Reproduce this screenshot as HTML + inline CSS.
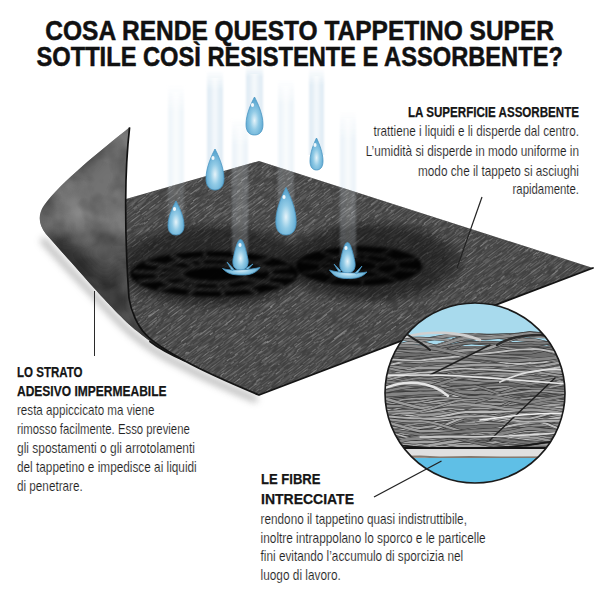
<!DOCTYPE html><html><head><meta charset="utf-8"><style>
html,body{margin:0;padding:0;background:#fff;}
body{width:600px;height:600px;position:relative;overflow:hidden;}
svg text{font-family:"Liberation Sans",sans-serif;}
.t{font-weight:700;font-size:26.8px;fill:#111;stroke:#111;stroke-width:0.5px;}
.h{font-weight:700;font-size:14.5px;fill:#151515;stroke:#151515;stroke-width:0.25px;}
.b{font-weight:400;font-size:14.8px;fill:#222;stroke:#fff;stroke-width:0.15px;}
</style></head><body><svg width="600" height="600" viewBox="0 0 600 600" style="position:absolute;left:0;top:0">
<defs>
 <linearGradient id="beam" x1="0" y1="0" x2="0" y2="1" gradientUnits="objectBoundingBox">
  <stop offset="0" stop-color="#e2edf5" stop-opacity="0"/>
  <stop offset="0.2" stop-color="#e2edf5" stop-opacity="1"/>
  <stop offset="1" stop-color="#e2edf5" stop-opacity="1"/>
 </linearGradient>
 <linearGradient id="beamc" x1="0" y1="0" x2="1" y2="0" gradientUnits="objectBoundingBox">
  <stop offset="0" stop-color="#fff" stop-opacity="0"/>
  <stop offset="0.5" stop-color="#fff" stop-opacity="0.7"/>
  <stop offset="1" stop-color="#fff" stop-opacity="0"/>
 </linearGradient>
 <linearGradient id="bmh" x1="0" y1="0" x2="1" y2="0" gradientUnits="objectBoundingBox">
  <stop offset="0" stop-color="#fff" stop-opacity="0"/>
  <stop offset="0.3" stop-color="#fff" stop-opacity="1"/>
  <stop offset="0.7" stop-color="#fff" stop-opacity="1"/>
  <stop offset="1" stop-color="#fff" stop-opacity="0"/>
 </linearGradient>
 <radialGradient id="drop" cx="0.5" cy="0.62" r="0.55">
  <stop offset="0" stop-color="#e6f4fa"/>
  <stop offset="0.45" stop-color="#92cbe6"/>
  <stop offset="1" stop-color="#5aa6d0"/>
 </radialGradient>
 <linearGradient id="curlg" x1="0" y1="0" x2="1" y2="1">
  <stop offset="0" stop-color="#555"/>
  <stop offset="0.35" stop-color="#6e6e6e"/>
  <stop offset="0.6" stop-color="#707070"/>
  <stop offset="0.85" stop-color="#505050"/>
  <stop offset="1" stop-color="#3a3a3a"/>
 </linearGradient>
 <radialGradient id="wet" cx="0.5" cy="0.5" r="0.5">
  <stop offset="0" stop-color="#0c0c0c" stop-opacity="0.85"/>
  <stop offset="0.75" stop-color="#0c0c0c" stop-opacity="0.8"/>
  <stop offset="1" stop-color="#0c0c0c" stop-opacity="0"/>
 </radialGradient>
 <radialGradient id="halo" cx="0.5" cy="0.5" r="0.5">
  <stop offset="0" stop-color="#0a0a0a" stop-opacity="0.6"/>
  <stop offset="0.75" stop-color="#0a0a0a" stop-opacity="0.5"/>
  <stop offset="1" stop-color="#0a0a0a" stop-opacity="0"/>
 </radialGradient>
 <mask id="spotmask" maskUnits="userSpaceOnUse" x="0" y="0" width="600" height="600">
  <rect width="600" height="600" fill="#fff"/>
  <g fill="none" stroke="#000" stroke-width="3.4" opacity="0.85"><ellipse cx="214" cy="274" rx="57.1" ry="15.6"/><ellipse cx="214" cy="274" rx="31.9" ry="8.7"/><path d="M270.8,275.6 L294.2,276.2 M241.2,278.6 L282.8,285.5 M245.0,287.1 L257.7,292.6 M218.0,282.7 L224.0,295.9 M195.8,288.8 L188.3,294.9 M191.7,280.3 L157.7,289.8 M160.3,279.3 L138.2,281.5 M182.2,273.1 L133.8,271.8 M165.3,265.8 L145.2,262.5 M196.7,266.7 L170.3,255.4 M206.9,258.5 L204.0,252.1 M224.2,265.7 L239.7,253.1 M253.9,262.8 L270.3,258.2 M244.0,271.0 L289.8,266.5 M242.1,278.1 L264.3,281.4 M223.2,282.4 L230.5,289.0 M198.9,281.7 L187.0,287.8 M183.4,276.5 L159.3,278.5 M185.9,269.9 L163.7,266.6 M204.8,265.6 L197.5,259.0 M229.1,266.3 L241.0,260.2 M244.6,271.5 L268.7,269.5 "/></g>
  <g fill="none" stroke="#000" stroke-width="2.6" opacity="0.6"><ellipse cx="359" cy="266" rx="39.1" ry="12.4"/><ellipse cx="359" cy="266" rx="18.9" ry="6.0"/><path d="M396.8,269.1 L417.6,270.8 M371.1,270.6 L397.6,280.8 M361.5,278.4 L362.9,285.2 M348.9,271.1 L326.7,282.2 M322.7,270.6 L302.8,273.1 M340.7,264.5 L300.4,261.2 M334.1,256.5 L320.4,251.2 M357.8,260.0 L355.1,246.8 M379.9,255.5 L391.3,249.8 M376.6,263.8 L415.2,258.9 M372.5,270.2 L386.9,274.7 M354.3,271.8 L349.3,278.0 M340.8,267.6 L321.4,269.4 M345.5,261.8 L331.1,257.3 M363.7,260.2 L368.7,254.0 M377.2,264.4 L396.6,262.6 "/></g>
 </mask>
 <clipPath id="matclip"><path d="M126,199 L259,161 L593,268 L259,395 C235,385 205,372 185,361 C165,350 150,340 144.7,333.3 C138,326 131,312 129,298 C127,270 125.5,230 125.7,200 Z"/></clipPath>
 <clipPath id="curlclip"><path d="M129.6,127.3 C101,150.5 61,182 44,205.5 C38,214 38,224 46,234 C60,250 80,272 94,288 C105,300 125,322 137,331 C150,342 165,352 185,361 C165,350 150,340 144.7,333.3 C138,326 131,312 129,298 C127,270 125.5,230 125.7,200 C125.8,175 127,150 129.6,127.3 Z"/></clipPath>
 <clipPath id="circclip"><circle cx="475" cy="393" r="90"/></clipPath>
 <filter id="blur4" x="-50%" y="-50%" width="200%" height="200%"><feGaussianBlur stdDeviation="5"/></filter>
 <filter id="bblur" x="-50%" y="-10%" width="200%" height="120%"><feGaussianBlur stdDeviation="1.2 0"/></filter>
 <filter id="blur10" x="-50%" y="-50%" width="200%" height="200%"><feGaussianBlur stdDeviation="9"/></filter>
 <filter id="blur3" x="-50%" y="-50%" width="200%" height="200%"><feGaussianBlur stdDeviation="3.5"/></filter>
 <filter id="blur1" x="-20%" y="-20%" width="140%" height="140%"><feGaussianBlur stdDeviation="1.6"/></filter>
 <pattern id="lines" width="40" height="2.6" patternUnits="userSpaceOnUse">
  <rect y="0" width="40" height="1.0" fill="#8c8c8c"/>
 </pattern>
 <filter id="streak" x="-300" y="-300" width="1200" height="1200" filterUnits="userSpaceOnUse">
  <feTurbulence type="fractalNoise" baseFrequency="0.06 0.15" numOctaves="2" seed="4" result="w"/>
  <feDisplacementMap in="SourceGraphic" in2="w" scale="5" xChannelSelector="R" yChannelSelector="G" result="d"/>
  <feTurbulence type="fractalNoise" baseFrequency="0.09 0.45" numOctaves="2" seed="9" result="n"/>
  <feColorMatrix in="n" type="matrix" values="0 0 0 0 0  0 0 0 0 0  0 0 0 0 0  2.0 0 0 0 -0.45" result="a"/>
  <feComposite in="d" in2="a" operator="in"/>
 </filter>
 <filter id="mottled" x="0" y="0" width="600" height="600" filterUnits="userSpaceOnUse">
  <feTurbulence type="fractalNoise" baseFrequency="0.035" numOctaves="3" seed="23"/>
  <feColorMatrix type="matrix" values="0 0 0 0 0  0 0 0 0 0  0 0 0 0 0  1.8 0 0 0 -0.75"/>
 </filter>
 <filter id="mottle" x="0" y="0" width="600" height="600" filterUnits="userSpaceOnUse">
  <feTurbulence type="fractalNoise" baseFrequency="0.025" numOctaves="3" seed="11"/>
  <feColorMatrix type="matrix" values="0 0 0 0 1  0 0 0 0 1  0 0 0 0 1  1.6 0 0 0 -0.6"/>
 </filter>
</defs>
<rect width="600" height="600" fill="#fff"/>
<!-- beams -->
<g filter="url(#bblur)"><g opacity="0.50"><rect x="168" y="84" width="16" height="134" fill="url(#beam)"/><rect x="171" y="92" width="10" height="126" fill="url(#beamc)"/></g><g opacity="1.00"><rect x="207" y="70" width="16" height="100" fill="url(#beam)"/><rect x="210" y="78" width="10" height="92" fill="url(#beamc)"/></g><g opacity="1.00"><rect x="246" y="66" width="17" height="54" fill="url(#beam)"/><rect x="249" y="74" width="11" height="46" fill="url(#beamc)"/></g><g opacity="0.55"><rect x="278" y="78" width="16" height="132" fill="url(#beam)"/><rect x="281" y="86" width="10" height="124" fill="url(#beamc)"/></g><g opacity="1.00"><rect x="309" y="68" width="15" height="87" fill="url(#beam)"/><rect x="312" y="76" width="9" height="79" fill="url(#beamc)"/></g><g opacity="0.60"><rect x="232" y="118" width="16" height="137" fill="url(#beam)"/><rect x="235" y="126" width="10" height="129" fill="url(#beamc)"/></g><g opacity="0.60"><rect x="340" y="110" width="16" height="148" fill="url(#beam)"/><rect x="343" y="118" width="10" height="140" fill="url(#beamc)"/></g></g>
<!-- curl shadow -->
<path d="M44,236 C60,254 80,276 94,290 C105,302 125,324 137,333 C150,344 165,354 185,363 C205,374 235,387 259,397" stroke="#999" stroke-width="6" fill="none" opacity="0.7" filter="url(#blur3)" transform="translate(-2,3)"/>
<!-- mat top -->
<path d="M126,199 L259,161 L593,268 L259,395 C235,385 205,372 185,361 C165,350 150,340 144.7,333.3 C138,326 131,312 129,298 C127,270 125.5,230 125.7,200 Z" fill="#3f3f3f"/>
<g clip-path="url(#matclip)">
 <g transform="rotate(-37 360 280)"><rect x="40" y="0" width="640" height="560" fill="url(#lines)" filter="url(#streak)"/></g>
 <ellipse cx="212" cy="266" rx="108" ry="46" fill="url(#halo)"/>
 <ellipse cx="372" cy="262" rx="98" ry="44" fill="url(#halo)"/>
 <g filter="url(#blur1)"><g mask="url(#spotmask)">
 <ellipse cx="214" cy="274" rx="84" ry="23" fill="#050505" opacity="0.92"/>
 <ellipse cx="359" cy="266" rx="63" ry="20" fill="#050505" opacity="0.92"/>
 </g></g>
</g>


<!-- curl -->
<path d="M129.6,127.3 C101,150.5 61,182 44,205.5 C38,214 38,224 46,234 C60,250 80,272 94,288 C105,300 125,322 137,331 C150,342 165,352 185,361 C165,350 150,340 144.7,333.3 C138,326 131,312 129,298 C127,270 125.5,230 125.7,200 C125.8,175 127,150 129.6,127.3 Z" fill="#606060"/>
<g clip-path="url(#curlclip)">
 <g filter="url(#blur10)">
  <ellipse cx="100" cy="190" rx="24" ry="50" transform="rotate(25 100 190)" fill="#727272"/>
  <ellipse cx="70" cy="222" rx="18" ry="14" fill="#6c6c6c"/>
  <path d="M46,234 C60,250 80,272 94,288 C105,300 125,322 137,331 C147,339 158,348 170,354" stroke="#2e2e2e" stroke-width="34" fill="none"/>
  <ellipse cx="140" cy="335" rx="22" ry="12" fill="#303030"/>
  <ellipse cx="124" cy="295" rx="14" ry="40" fill="#333"/>
  <path d="M129.6,127.3 C101,150.5 61,182 44,205.5 C38,214 38,224 46,234" stroke="#4a4a4a" stroke-width="9" fill="none"/>
 </g>
 <g opacity="0.3"><rect x="0" y="100" width="200" height="260" filter="url(#mottle)"/></g>
 <g opacity="0.3"><rect x="0" y="100" width="200" height="260" filter="url(#mottled)"/></g>
</g>
<path d="M129.6,127.3 C127,150 125.8,175 125.7,200 C125.5,230 127,270 129,298 C131,312 138,326 144.7,333.3 C150,340 165,350 185,361" stroke="#111" stroke-width="1.7" fill="none"/>
<path d="M150,341.5 C157,347 165,352 185,361 C205,372 235,385 259,395 L593,268" stroke="#141414" stroke-width="1.8" fill="none" stroke-linejoin="round" stroke-linecap="round"/>
<g clip-path="url(#matclip)" opacity="0.35"><g filter="url(#bblur)"><g opacity="0.50"><rect x="168" y="84" width="16" height="134" fill="url(#beam)"/><rect x="171" y="92" width="10" height="126" fill="url(#beamc)"/></g><g opacity="1.00"><rect x="207" y="70" width="16" height="100" fill="url(#beam)"/><rect x="210" y="78" width="10" height="92" fill="url(#beamc)"/></g><g opacity="1.00"><rect x="246" y="66" width="17" height="54" fill="url(#beam)"/><rect x="249" y="74" width="11" height="46" fill="url(#beamc)"/></g><g opacity="0.55"><rect x="278" y="78" width="16" height="132" fill="url(#beam)"/><rect x="281" y="86" width="10" height="124" fill="url(#beamc)"/></g><g opacity="1.00"><rect x="309" y="68" width="15" height="87" fill="url(#beam)"/><rect x="312" y="76" width="9" height="79" fill="url(#beamc)"/></g><g opacity="0.60"><rect x="232" y="118" width="16" height="137" fill="url(#beam)"/><rect x="235" y="126" width="10" height="129" fill="url(#beamc)"/></g><g opacity="0.60"><rect x="340" y="110" width="16" height="148" fill="url(#beam)"/><rect x="343" y="118" width="10" height="140" fill="url(#beamc)"/></g></g></g>
<!-- drops -->
<g fill="url(#drop)" stroke="#4a96c2" stroke-width="0.8"><path d="M254.5,97.0 C257.5,102.7 263.0,114.1 263.0,124.4 C263.0,132.0 259.2,135.0 254.5,135.0 C249.8,135.0 246.0,132.0 246.0,124.4 C246.0,114.1 251.5,102.7 254.5,97.0 Z"/><path d="M316.5,138.0 C318.8,142.8 323.0,152.4 323.0,161.0 C323.0,167.4 320.1,170.0 316.5,170.0 C312.9,170.0 310.0,167.4 310.0,161.0 C310.0,152.4 314.2,142.8 316.5,138.0 Z"/><path d="M215.0,149.0 C218.2,155.2 224.0,167.4 224.0,178.5 C224.0,186.7 219.9,190.0 215.0,190.0 C210.1,190.0 206.0,186.7 206.0,178.5 C206.0,167.4 211.8,155.2 215.0,149.0 Z"/><path d="M176.0,201.0 C178.8,206.1 184.0,216.3 184.0,225.5 C184.0,232.3 180.4,235.0 176.0,235.0 C171.6,235.0 168.0,232.3 168.0,225.5 C168.0,216.3 173.2,206.1 176.0,201.0 Z"/><path d="M286.0,187.5 C289.6,194.6 296.2,208.9 296.2,221.7 C296.2,231.2 291.6,235.0 286.0,235.0 C280.4,235.0 275.8,231.2 275.8,221.7 C275.8,208.9 282.4,194.6 286.0,187.5 Z"/><path d="M240.5,239.5 C243.5,239.5 245.6,248.7 247.7,257.8 C249.4,265.4 246.4,270.0 240.5,270.0 C234.6,270.0 231.6,265.4 233.3,257.8 C235.4,248.7 237.5,239.5 240.5,239.5 Z"/><path d="M222.5,268.5 C230.5,271.5 252.0,269.5 260.0,267.5 C255.0,274.0 249.2,275.0 241.2,275.0 C233.2,275.0 227.5,274.0 222.5,268.5 Z M227.0,262.0 L232.0,270.5 L234.0,269.5 Z M253.0,264.0 L248.0,269.5 L246.0,268.5 Z"/><path d="M347.5,242.5 C350.5,242.5 352.6,251.7 354.7,260.8 C356.4,268.4 353.4,273.0 347.5,273.0 C341.6,273.0 338.6,268.4 340.3,260.8 C342.4,251.7 344.5,242.5 347.5,242.5 Z"/><path d="M329.5,270.0 C337.5,273.0 359.0,274.0 367.0,272.0 C362.0,277.5 356.2,278.5 348.2,278.5 C340.2,278.5 334.5,277.5 329.5,270.0 Z M334.0,264.0 L339.0,272.0 L341.0,271.0 Z M362.0,266.0 L357.0,274.0 L355.0,273.0 Z"/></g>
<g><ellipse cx="252.5" cy="105" rx="1.6" ry="2" fill="#fff" opacity="0.9"/><ellipse cx="315" cy="145" rx="1.6" ry="2" fill="#fff" opacity="0.9"/><ellipse cx="213" cy="158" rx="1.6" ry="2" fill="#fff" opacity="0.9"/><ellipse cx="174.5" cy="209" rx="1.6" ry="2" fill="#fff" opacity="0.9"/><ellipse cx="284" cy="197" rx="1.6" ry="2" fill="#fff" opacity="0.9"/><ellipse cx="240" cy="245" rx="1.6" ry="2" fill="#fff" opacity="0.9"/><ellipse cx="346" cy="248" rx="1.6" ry="2" fill="#fff" opacity="0.9"/></g>
<!-- magnifier circle -->
<g clip-path="url(#circclip)">
 <rect x="380" y="300" width="190" height="190" fill="#a8daed"/>
 <rect x="380" y="346" width="190" height="101" fill="#6e6e6e"/>
 <g fill="none" stroke-linecap="round"><path d="M365.0,409.1 C383.0,408.8 402.0,417.9 420.0,414.3 C438.0,415.5 457.0,417.9 475.0,414.7 C493.0,411.6 512.0,420.2 530.0,420.4 C548.0,418.4 572.0,411.8 590.0,411.4" stroke="#2e2e2e" stroke-width="3.0"/><path d="M365.0,409.1 C383.0,408.8 402.0,417.9 420.0,414.3 C438.0,415.5 457.0,417.9 475.0,414.7 C493.0,411.6 512.0,420.2 530.0,420.4 C548.0,418.4 572.0,411.8 590.0,411.4" stroke="#a0a0a0" stroke-width="2.1"/><path d="M365.0,419.6 C383.0,420.5 402.0,427.5 420.0,428.0 C438.0,425.0 457.0,423.9 475.0,420.1 C493.0,416.1 512.0,426.3 530.0,424.1 C548.0,427.8 572.0,410.4 590.0,413.1" stroke="#2e2e2e" stroke-width="3.1"/><path d="M365.0,419.6 C383.0,420.5 402.0,427.5 420.0,428.0 C438.0,425.0 457.0,423.9 475.0,420.1 C493.0,416.1 512.0,426.3 530.0,424.1 C548.0,427.8 572.0,410.4 590.0,413.1" stroke="#a5a5a5" stroke-width="2.2"/><path d="M365.0,444.1 C383.0,447.2 402.0,436.3 420.0,437.9 C438.0,436.8 457.0,444.3 475.0,447.0 C493.0,444.2 512.0,442.3 530.0,445.8 C548.0,444.2 572.0,447.8 590.0,447.0" stroke="#2e2e2e" stroke-width="3.5"/><path d="M365.0,444.1 C383.0,447.2 402.0,436.3 420.0,437.9 C438.0,436.8 457.0,444.3 475.0,447.0 C493.0,444.2 512.0,442.3 530.0,445.8 C548.0,444.2 572.0,447.8 590.0,447.0" stroke="#8a8a8a" stroke-width="2.6"/><path d="M365.0,428.9 C383.0,426.3 402.0,420.5 420.0,422.4 C438.0,425.9 457.0,425.8 475.0,422.2 C493.0,421.0 512.0,408.5 530.0,409.3 C548.0,409.7 572.0,406.4 590.0,407.1" stroke="#2e2e2e" stroke-width="3.5"/><path d="M365.0,428.9 C383.0,426.3 402.0,420.5 420.0,422.4 C438.0,425.9 457.0,425.8 475.0,422.2 C493.0,421.0 512.0,408.5 530.0,409.3 C548.0,409.7 572.0,406.4 590.0,407.1" stroke="#bdbdbd" stroke-width="2.6"/><path d="M365.0,346.1 C383.0,349.6 402.0,349.7 420.0,350.9 C438.0,349.8 457.0,334.5 475.0,334.3 C493.0,336.5 512.0,333.0 530.0,336.2 C548.0,338.1 572.0,335.4 590.0,333.0" stroke="#2e2e2e" stroke-width="2.8"/><path d="M365.0,346.1 C383.0,349.6 402.0,349.7 420.0,350.9 C438.0,349.8 457.0,334.5 475.0,334.3 C493.0,336.5 512.0,333.0 530.0,336.2 C548.0,338.1 572.0,335.4 590.0,333.0" stroke="#b0b0b0" stroke-width="1.9"/><path d="M365.0,447.0 C383.0,447.4 402.0,445.5 420.0,447.0 C438.0,445.5 457.0,444.4 475.0,447.0 C493.0,443.6 512.0,430.8 530.0,433.6 C548.0,435.1 572.0,439.8 590.0,435.9" stroke="#2e2e2e" stroke-width="3.7"/><path d="M365.0,447.0 C383.0,447.4 402.0,445.5 420.0,447.0 C438.0,445.5 457.0,444.4 475.0,447.0 C493.0,443.6 512.0,430.8 530.0,433.6 C548.0,435.1 572.0,439.8 590.0,435.9" stroke="#a5a5a5" stroke-width="2.8"/><path d="M365.0,354.0 C383.0,355.2 402.0,340.0 420.0,342.8 C438.0,346.7 457.0,355.2 475.0,354.1 C493.0,356.5 512.0,348.5 530.0,349.9 C548.0,347.5 572.0,353.9 590.0,350.0" stroke="#2e2e2e" stroke-width="4.0"/><path d="M365.0,354.0 C383.0,355.2 402.0,340.0 420.0,342.8 C438.0,346.7 457.0,355.2 475.0,354.1 C493.0,356.5 512.0,348.5 530.0,349.9 C548.0,347.5 572.0,353.9 590.0,350.0" stroke="#a0a0a0" stroke-width="3.1"/><path d="M365.0,398.9 C383.0,398.6 402.0,411.3 420.0,407.3 C438.0,410.1 457.0,410.9 475.0,407.1 C493.0,406.8 512.0,420.6 530.0,420.7 C548.0,422.5 572.0,417.0 590.0,417.1" stroke="#2e2e2e" stroke-width="3.4"/><path d="M365.0,398.9 C383.0,398.6 402.0,411.3 420.0,407.3 C438.0,410.1 457.0,410.9 475.0,407.1 C493.0,406.8 512.0,420.6 530.0,420.7 C548.0,422.5 572.0,417.0 590.0,417.1" stroke="#b0b0b0" stroke-width="2.5"/><path d="M365.0,447.0 C383.0,444.4 402.0,442.8 420.0,442.8 C438.0,443.0 457.0,433.2 475.0,432.8 C493.0,432.8 512.0,434.8 530.0,438.3 C548.0,440.6 572.0,430.6 590.0,431.7" stroke="#2e2e2e" stroke-width="3.6"/><path d="M365.0,447.0 C383.0,444.4 402.0,442.8 420.0,442.8 C438.0,443.0 457.0,433.2 475.0,432.8 C493.0,432.8 512.0,434.8 530.0,438.3 C548.0,440.6 572.0,430.6 590.0,431.7" stroke="#a0a0a0" stroke-width="2.7"/><path d="M365.0,430.8 C383.0,429.1 402.0,426.6 420.0,423.0 C438.0,424.2 457.0,424.7 475.0,424.1 C493.0,420.2 512.0,426.6 530.0,426.3 C548.0,424.3 572.0,424.6 590.0,423.2" stroke="#2e2e2e" stroke-width="3.1"/><path d="M365.0,430.8 C383.0,429.1 402.0,426.6 420.0,423.0 C438.0,424.2 457.0,424.7 475.0,424.1 C493.0,420.2 512.0,426.6 530.0,426.3 C548.0,424.3 572.0,424.6 590.0,423.2" stroke="#909090" stroke-width="2.2"/><path d="M365.0,392.6 C383.0,396.0 402.0,391.1 420.0,393.8 C438.0,396.7 457.0,396.7 475.0,397.1 C493.0,396.0 512.0,406.3 530.0,407.6 C548.0,404.8 572.0,406.6 590.0,402.7" stroke="#2e2e2e" stroke-width="3.9"/><path d="M365.0,392.6 C383.0,396.0 402.0,391.1 420.0,393.8 C438.0,396.7 457.0,396.7 475.0,397.1 C493.0,396.0 512.0,406.3 530.0,407.6 C548.0,404.8 572.0,406.6 590.0,402.7" stroke="#7a7a7a" stroke-width="3.0"/><path d="M365.0,443.7 C383.0,444.4 402.0,445.2 420.0,443.8 C438.0,443.2 457.0,444.7 475.0,443.7 C493.0,445.9 512.0,436.7 530.0,435.6 C548.0,437.3 572.0,440.0 590.0,443.8" stroke="#2e2e2e" stroke-width="3.5"/><path d="M365.0,443.7 C383.0,444.4 402.0,445.2 420.0,443.8 C438.0,443.2 457.0,444.7 475.0,443.7 C493.0,445.9 512.0,436.7 530.0,435.6 C548.0,437.3 572.0,440.0 590.0,443.8" stroke="#a5a5a5" stroke-width="2.6"/><path d="M365.0,423.5 C383.0,420.8 402.0,414.3 420.0,411.2 C438.0,408.1 457.0,418.2 475.0,414.5 C493.0,414.4 512.0,414.4 530.0,414.0 C548.0,413.4 572.0,408.2 590.0,409.3" stroke="#2e2e2e" stroke-width="3.6"/><path d="M365.0,423.5 C383.0,420.8 402.0,414.3 420.0,411.2 C438.0,408.1 457.0,418.2 475.0,414.5 C493.0,414.4 512.0,414.4 530.0,414.0 C548.0,413.4 572.0,408.2 590.0,409.3" stroke="#9c9c9c" stroke-width="2.7"/><path d="M365.0,420.7 C383.0,417.6 402.0,407.3 420.0,404.6 C438.0,403.6 457.0,403.1 475.0,406.8 C493.0,407.7 512.0,398.3 530.0,401.6 C548.0,401.9 572.0,398.4 590.0,399.6" stroke="#2e2e2e" stroke-width="3.1"/><path d="M365.0,420.7 C383.0,417.6 402.0,407.3 420.0,404.6 C438.0,403.6 457.0,403.1 475.0,406.8 C493.0,407.7 512.0,398.3 530.0,401.6 C548.0,401.9 572.0,398.4 590.0,399.6" stroke="#a0a0a0" stroke-width="2.2"/><path d="M365.0,392.2 C383.0,391.3 402.0,389.3 420.0,389.5 C438.0,387.1 457.0,381.3 475.0,384.2 C493.0,380.9 512.0,380.9 530.0,378.3 C548.0,379.6 572.0,367.7 590.0,368.6" stroke="#2e2e2e" stroke-width="3.5"/><path d="M365.0,392.2 C383.0,391.3 402.0,389.3 420.0,389.5 C438.0,387.1 457.0,381.3 475.0,384.2 C493.0,380.9 512.0,380.9 530.0,378.3 C548.0,379.6 572.0,367.7 590.0,368.6" stroke="#747474" stroke-width="2.6"/><path d="M365.0,421.9 C383.0,420.2 402.0,424.6 420.0,420.8 C438.0,419.8 457.0,412.5 475.0,408.8 C493.0,412.1 512.0,405.6 530.0,404.9 C548.0,403.0 572.0,400.7 590.0,396.8" stroke="#2e2e2e" stroke-width="3.1"/><path d="M365.0,421.9 C383.0,420.2 402.0,424.6 420.0,420.8 C438.0,419.8 457.0,412.5 475.0,408.8 C493.0,412.1 512.0,405.6 530.0,404.9 C548.0,403.0 572.0,400.7 590.0,396.8" stroke="#909090" stroke-width="2.2"/><path d="M365.0,333.0 C383.0,336.7 402.0,338.8 420.0,340.9 C438.0,337.2 457.0,332.8 475.0,335.8 C493.0,334.9 512.0,339.8 530.0,340.0 C548.0,340.4 572.0,353.2 590.0,355.3" stroke="#2e2e2e" stroke-width="3.8"/><path d="M365.0,333.0 C383.0,336.7 402.0,338.8 420.0,340.9 C438.0,337.2 457.0,332.8 475.0,335.8 C493.0,334.9 512.0,339.8 530.0,340.0 C548.0,340.4 572.0,353.2 590.0,355.3" stroke="#909090" stroke-width="2.9"/><path d="M365.0,373.1 C383.0,374.2 402.0,382.5 420.0,381.7 C438.0,383.6 457.0,365.8 475.0,368.9 C493.0,371.0 512.0,368.6 530.0,370.2 C548.0,370.5 572.0,363.7 590.0,365.0" stroke="#2e2e2e" stroke-width="3.7"/><path d="M365.0,373.1 C383.0,374.2 402.0,382.5 420.0,381.7 C438.0,383.6 457.0,365.8 475.0,368.9 C493.0,371.0 512.0,368.6 530.0,370.2 C548.0,370.5 572.0,363.7 590.0,365.0" stroke="#b0b0b0" stroke-width="2.8"/><path d="M365.0,348.6 C383.0,350.0 402.0,345.3 420.0,348.4 C438.0,349.9 457.0,334.4 475.0,336.9 C493.0,336.3 512.0,335.6 530.0,333.1 C548.0,333.9 572.0,340.2 590.0,338.6" stroke="#2e2e2e" stroke-width="3.6"/><path d="M365.0,348.6 C383.0,350.0 402.0,345.3 420.0,348.4 C438.0,349.9 457.0,334.4 475.0,336.9 C493.0,336.3 512.0,335.6 530.0,333.1 C548.0,333.9 572.0,340.2 590.0,338.6" stroke="#9c9c9c" stroke-width="2.7"/><path d="M365.0,424.0 C383.0,426.1 402.0,429.9 420.0,431.4 C438.0,427.5 457.0,438.7 475.0,436.5 C493.0,437.1 512.0,444.7 530.0,443.5 C548.0,443.2 572.0,440.8 590.0,442.3" stroke="#2e2e2e" stroke-width="3.4"/><path d="M365.0,424.0 C383.0,426.1 402.0,429.9 420.0,431.4 C438.0,427.5 457.0,438.7 475.0,436.5 C493.0,437.1 512.0,444.7 530.0,443.5 C548.0,443.2 572.0,440.8 590.0,442.3" stroke="#a5a5a5" stroke-width="2.5"/><path d="M365.0,401.8 C383.0,399.6 402.0,401.8 420.0,399.3 C438.0,401.6 457.0,406.6 475.0,405.3 C493.0,401.5 512.0,410.2 530.0,408.4 C548.0,412.3 572.0,402.0 590.0,398.0" stroke="#2e2e2e" stroke-width="2.8"/><path d="M365.0,401.8 C383.0,399.6 402.0,401.8 420.0,399.3 C438.0,401.6 457.0,406.6 475.0,405.3 C493.0,401.5 512.0,410.2 530.0,408.4 C548.0,412.3 572.0,402.0 590.0,398.0" stroke="#909090" stroke-width="1.9"/><path d="M365.0,441.3 C383.0,444.7 402.0,439.1 420.0,441.9 C438.0,442.8 457.0,434.2 475.0,434.8 C493.0,432.1 512.0,424.0 530.0,423.0 C548.0,419.4 572.0,418.1 590.0,421.2" stroke="#2e2e2e" stroke-width="3.7"/><path d="M365.0,441.3 C383.0,444.7 402.0,439.1 420.0,441.9 C438.0,442.8 457.0,434.2 475.0,434.8 C493.0,432.1 512.0,424.0 530.0,423.0 C548.0,419.4 572.0,418.1 590.0,421.2" stroke="#bdbdbd" stroke-width="2.8"/><path d="M365.0,368.5 C383.0,370.0 402.0,373.3 420.0,373.4 C438.0,372.2 457.0,378.7 475.0,377.4 C493.0,380.8 512.0,366.9 530.0,369.8 C548.0,368.2 572.0,372.5 590.0,372.0" stroke="#2e2e2e" stroke-width="3.4"/><path d="M365.0,368.5 C383.0,370.0 402.0,373.3 420.0,373.4 C438.0,372.2 457.0,378.7 475.0,377.4 C493.0,380.8 512.0,366.9 530.0,369.8 C548.0,368.2 572.0,372.5 590.0,372.0" stroke="#9c9c9c" stroke-width="2.5"/><path d="M365.0,438.3 C383.0,438.4 402.0,431.1 420.0,434.0 C438.0,431.9 457.0,437.7 475.0,438.8 C493.0,440.7 512.0,432.8 530.0,435.3 C548.0,437.0 572.0,444.3 590.0,443.1" stroke="#2e2e2e" stroke-width="3.5"/><path d="M365.0,438.3 C383.0,438.4 402.0,431.1 420.0,434.0 C438.0,431.9 457.0,437.7 475.0,438.8 C493.0,440.7 512.0,432.8 530.0,435.3 C548.0,437.0 572.0,444.3 590.0,443.1" stroke="#999" stroke-width="2.6"/><path d="M365.0,334.2 C383.0,331.0 402.0,338.5 420.0,338.2 C438.0,338.6 457.0,341.2 475.0,342.1 C493.0,344.9 512.0,351.5 530.0,348.0 C548.0,347.4 572.0,362.6 590.0,360.2" stroke="#2e2e2e" stroke-width="2.8"/><path d="M365.0,334.2 C383.0,331.0 402.0,338.5 420.0,338.2 C438.0,338.6 457.0,341.2 475.0,342.1 C493.0,344.9 512.0,351.5 530.0,348.0 C548.0,347.4 572.0,362.6 590.0,360.2" stroke="#999" stroke-width="1.9"/><path d="M365.0,434.3 C383.0,437.8 402.0,442.7 420.0,441.1 C438.0,443.4 457.0,435.4 475.0,436.4 C493.0,438.2 512.0,441.6 530.0,442.7 C548.0,441.1 572.0,436.0 590.0,435.0" stroke="#2e2e2e" stroke-width="3.4"/><path d="M365.0,434.3 C383.0,437.8 402.0,442.7 420.0,441.1 C438.0,443.4 457.0,435.4 475.0,436.4 C493.0,438.2 512.0,441.6 530.0,442.7 C548.0,441.1 572.0,436.0 590.0,435.0" stroke="#747474" stroke-width="2.5"/><path d="M365.0,409.8 C383.0,406.1 402.0,409.1 420.0,405.9 C438.0,405.8 457.0,404.8 475.0,402.7 C493.0,398.7 512.0,402.6 530.0,402.8 C548.0,405.9 572.0,407.2 590.0,406.2" stroke="#2e2e2e" stroke-width="3.2"/><path d="M365.0,409.8 C383.0,406.1 402.0,409.1 420.0,405.9 C438.0,405.8 457.0,404.8 475.0,402.7 C493.0,398.7 512.0,402.6 530.0,402.8 C548.0,405.9 572.0,407.2 590.0,406.2" stroke="#bdbdbd" stroke-width="2.3"/><path d="M365.0,405.6 C383.0,406.0 402.0,390.2 420.0,393.4 C438.0,395.9 457.0,402.5 475.0,400.5 C493.0,401.8 512.0,392.7 530.0,396.4 C548.0,399.6 572.0,385.1 590.0,386.4" stroke="#2e2e2e" stroke-width="3.1"/><path d="M365.0,405.6 C383.0,406.0 402.0,390.2 420.0,393.4 C438.0,395.9 457.0,402.5 475.0,400.5 C493.0,401.8 512.0,392.7 530.0,396.4 C548.0,399.6 572.0,385.1 590.0,386.4" stroke="#747474" stroke-width="2.2"/><path d="M365.0,359.4 C383.0,359.1 402.0,356.5 420.0,358.6 C438.0,362.6 457.0,338.9 475.0,342.6 C493.0,344.3 512.0,345.7 530.0,345.1 C548.0,346.3 572.0,333.9 590.0,333.0" stroke="#2e2e2e" stroke-width="3.7"/><path d="M365.0,359.4 C383.0,359.1 402.0,356.5 420.0,358.6 C438.0,362.6 457.0,338.9 475.0,342.6 C493.0,344.3 512.0,345.7 530.0,345.1 C548.0,346.3 572.0,333.9 590.0,333.0" stroke="#747474" stroke-width="2.8"/><path d="M365.0,362.0 C383.0,359.7 402.0,369.5 420.0,373.2 C438.0,374.1 457.0,365.8 475.0,364.0 C493.0,362.2 512.0,366.2 530.0,366.5 C548.0,366.1 572.0,357.5 590.0,356.1" stroke="#2e2e2e" stroke-width="2.8"/><path d="M365.0,362.0 C383.0,359.7 402.0,369.5 420.0,373.2 C438.0,374.1 457.0,365.8 475.0,364.0 C493.0,362.2 512.0,366.2 530.0,366.5 C548.0,366.1 572.0,357.5 590.0,356.1" stroke="#a5a5a5" stroke-width="1.9"/><path d="M365.0,391.4 C383.0,391.3 402.0,399.0 420.0,395.5 C438.0,391.9 457.0,396.3 475.0,398.3 C493.0,394.7 512.0,403.7 530.0,404.5 C548.0,401.0 572.0,421.2 590.0,423.1" stroke="#2e2e2e" stroke-width="3.3"/><path d="M365.0,391.4 C383.0,391.3 402.0,399.0 420.0,395.5 C438.0,391.9 457.0,396.3 475.0,398.3 C493.0,394.7 512.0,403.7 530.0,404.5 C548.0,401.0 572.0,421.2 590.0,423.1" stroke="#bdbdbd" stroke-width="2.4"/><path d="M365.0,409.4 C383.0,407.3 402.0,407.2 420.0,403.8 C438.0,406.1 457.0,412.5 475.0,415.8 C493.0,419.6 512.0,417.2 530.0,419.9 C548.0,416.5 572.0,420.8 590.0,419.0" stroke="#2e2e2e" stroke-width="2.7"/><path d="M365.0,409.4 C383.0,407.3 402.0,407.2 420.0,403.8 C438.0,406.1 457.0,412.5 475.0,415.8 C493.0,419.6 512.0,417.2 530.0,419.9 C548.0,416.5 572.0,420.8 590.0,419.0" stroke="#a0a0a0" stroke-width="1.8"/><path d="M365.0,404.5 C383.0,403.0 402.0,401.2 420.0,401.6 C438.0,404.2 457.0,402.7 475.0,404.9 C493.0,401.8 512.0,404.6 530.0,406.1 C548.0,402.8 572.0,410.7 590.0,408.6" stroke="#2e2e2e" stroke-width="3.1"/><path d="M365.0,404.5 C383.0,403.0 402.0,401.2 420.0,401.6 C438.0,404.2 457.0,402.7 475.0,404.9 C493.0,401.8 512.0,404.6 530.0,406.1 C548.0,402.8 572.0,410.7 590.0,408.6" stroke="#bdbdbd" stroke-width="2.2"/><path d="M365.0,364.9 C383.0,361.4 402.0,358.8 420.0,357.2 C438.0,353.6 457.0,354.1 475.0,356.5 C493.0,354.8 512.0,352.0 530.0,353.0 C548.0,349.8 572.0,341.7 590.0,342.4" stroke="#2e2e2e" stroke-width="3.2"/><path d="M365.0,364.9 C383.0,361.4 402.0,358.8 420.0,357.2 C438.0,353.6 457.0,354.1 475.0,356.5 C493.0,354.8 512.0,352.0 530.0,353.0 C548.0,349.8 572.0,341.7 590.0,342.4" stroke="#747474" stroke-width="2.3"/><path d="M365.0,435.4 C383.0,436.9 402.0,440.2 420.0,437.9 C438.0,434.1 457.0,416.4 475.0,420.0 C493.0,419.4 512.0,408.8 530.0,412.0 C548.0,414.4 572.0,406.9 590.0,406.4" stroke="#2e2e2e" stroke-width="2.8"/><path d="M365.0,435.4 C383.0,436.9 402.0,440.2 420.0,437.9 C438.0,434.1 457.0,416.4 475.0,420.0 C493.0,419.4 512.0,408.8 530.0,412.0 C548.0,414.4 572.0,406.9 590.0,406.4" stroke="#747474" stroke-width="1.9"/><path d="M365.0,371.3 C383.0,367.5 402.0,359.1 420.0,362.7 C438.0,359.7 457.0,355.3 475.0,356.5 C493.0,359.3 512.0,366.7 530.0,363.1 C548.0,364.0 572.0,354.7 590.0,356.8" stroke="#2e2e2e" stroke-width="2.9"/><path d="M365.0,371.3 C383.0,367.5 402.0,359.1 420.0,362.7 C438.0,359.7 457.0,355.3 475.0,356.5 C493.0,359.3 512.0,366.7 530.0,363.1 C548.0,364.0 572.0,354.7 590.0,356.8" stroke="#bdbdbd" stroke-width="2.0"/><path d="M365.0,365.5 C383.0,366.4 402.0,371.1 420.0,370.0 C438.0,367.2 457.0,363.9 475.0,361.8 C493.0,361.3 512.0,370.8 530.0,371.4 C548.0,370.1 572.0,358.9 590.0,359.3" stroke="#2e2e2e" stroke-width="3.3"/><path d="M365.0,365.5 C383.0,366.4 402.0,371.1 420.0,370.0 C438.0,367.2 457.0,363.9 475.0,361.8 C493.0,361.3 512.0,370.8 530.0,371.4 C548.0,370.1 572.0,358.9 590.0,359.3" stroke="#7a7a7a" stroke-width="2.4"/><path d="M365.0,397.7 C383.0,394.5 402.0,401.8 420.0,399.3 C438.0,398.7 457.0,389.3 475.0,392.9 C493.0,396.7 512.0,394.5 530.0,398.2 C548.0,398.8 572.0,392.0 590.0,392.2" stroke="#2e2e2e" stroke-width="3.2"/><path d="M365.0,397.7 C383.0,394.5 402.0,401.8 420.0,399.3 C438.0,398.7 457.0,389.3 475.0,392.9 C493.0,396.7 512.0,394.5 530.0,398.2 C548.0,398.8 572.0,392.0 590.0,392.2" stroke="#747474" stroke-width="2.3"/><path d="M365.0,369.9 C383.0,368.8 402.0,370.0 420.0,372.1 C438.0,375.9 457.0,369.0 475.0,366.2 C493.0,369.0 512.0,369.8 530.0,368.8 C548.0,368.0 572.0,355.6 590.0,358.5" stroke="#2e2e2e" stroke-width="3.4"/><path d="M365.0,369.9 C383.0,368.8 402.0,370.0 420.0,372.1 C438.0,375.9 457.0,369.0 475.0,366.2 C493.0,369.0 512.0,369.8 530.0,368.8 C548.0,368.0 572.0,355.6 590.0,358.5" stroke="#7a7a7a" stroke-width="2.5"/><path d="M365.0,347.1 C383.0,345.7 402.0,352.9 420.0,351.4 C438.0,354.3 457.0,350.6 475.0,349.6 C493.0,352.0 512.0,334.4 530.0,335.4 C548.0,331.5 572.0,339.1 590.0,339.0" stroke="#2e2e2e" stroke-width="3.6"/><path d="M365.0,347.1 C383.0,345.7 402.0,352.9 420.0,351.4 C438.0,354.3 457.0,350.6 475.0,349.6 C493.0,352.0 512.0,334.4 530.0,335.4 C548.0,331.5 572.0,339.1 590.0,339.0" stroke="#a0a0a0" stroke-width="2.7"/><path d="M365.0,444.3 C383.0,445.9 402.0,436.7 420.0,437.1 C438.0,439.4 457.0,430.1 475.0,429.4 C493.0,432.9 512.0,423.4 530.0,422.9 C548.0,419.4 572.0,413.9 590.0,416.7" stroke="#2e2e2e" stroke-width="3.2"/><path d="M365.0,444.3 C383.0,445.9 402.0,436.7 420.0,437.1 C438.0,439.4 457.0,430.1 475.0,429.4 C493.0,432.9 512.0,423.4 530.0,422.9 C548.0,419.4 572.0,413.9 590.0,416.7" stroke="#bdbdbd" stroke-width="2.3"/><path d="M365.0,404.0 C383.0,404.7 402.0,405.2 420.0,403.1 C438.0,404.8 457.0,401.0 475.0,402.6 C493.0,406.0 512.0,403.3 530.0,405.1 C548.0,406.8 572.0,408.0 590.0,411.4" stroke="#2e2e2e" stroke-width="3.6"/><path d="M365.0,404.0 C383.0,404.7 402.0,405.2 420.0,403.1 C438.0,404.8 457.0,401.0 475.0,402.6 C493.0,406.0 512.0,403.3 530.0,405.1 C548.0,406.8 572.0,408.0 590.0,411.4" stroke="#999" stroke-width="2.7"/><path d="M365.0,434.3 C383.0,434.5 402.0,444.9 420.0,441.7 C438.0,439.6 457.0,449.3 475.0,445.5 C493.0,445.9 512.0,446.1 530.0,447.0 C548.0,443.0 572.0,446.1 590.0,447.0" stroke="#2e2e2e" stroke-width="3.8"/><path d="M365.0,434.3 C383.0,434.5 402.0,444.9 420.0,441.7 C438.0,439.6 457.0,449.3 475.0,445.5 C493.0,445.9 512.0,446.1 530.0,447.0 C548.0,443.0 572.0,446.1 590.0,447.0" stroke="#a5a5a5" stroke-width="2.9"/><path d="M365.0,412.2 C383.0,413.7 402.0,407.3 420.0,403.4 C438.0,401.4 457.0,396.4 475.0,399.6 C493.0,397.9 512.0,405.3 530.0,403.0 C548.0,405.3 572.0,396.0 590.0,399.4" stroke="#2e2e2e" stroke-width="2.8"/><path d="M365.0,412.2 C383.0,413.7 402.0,407.3 420.0,403.4 C438.0,401.4 457.0,396.4 475.0,399.6 C493.0,397.9 512.0,405.3 530.0,403.0 C548.0,405.3 572.0,396.0 590.0,399.4" stroke="#a5a5a5" stroke-width="1.9"/><path d="M365.0,400.7 C383.0,400.0 402.0,393.2 420.0,395.4 C438.0,395.2 457.0,392.8 475.0,392.0 C493.0,389.9 512.0,387.4 530.0,388.0 C548.0,384.7 572.0,385.3 590.0,382.2" stroke="#2e2e2e" stroke-width="3.0"/><path d="M365.0,400.7 C383.0,400.0 402.0,393.2 420.0,395.4 C438.0,395.2 457.0,392.8 475.0,392.0 C493.0,389.9 512.0,387.4 530.0,388.0 C548.0,384.7 572.0,385.3 590.0,382.2" stroke="#747474" stroke-width="2.1"/><path d="M365.0,353.8 C383.0,354.9 402.0,350.8 420.0,349.3 C438.0,351.1 457.0,334.8 475.0,338.3 C493.0,338.2 512.0,336.0 530.0,333.3 C548.0,337.0 572.0,332.0 590.0,333.5" stroke="#2e2e2e" stroke-width="3.6"/><path d="M365.0,353.8 C383.0,354.9 402.0,350.8 420.0,349.3 C438.0,351.1 457.0,334.8 475.0,338.3 C493.0,338.2 512.0,336.0 530.0,333.3 C548.0,337.0 572.0,332.0 590.0,333.5" stroke="#909090" stroke-width="2.7"/><path d="M365.0,447.0 C383.0,444.3 402.0,443.7 420.0,447.0 C438.0,444.2 457.0,440.1 475.0,439.2 C493.0,436.0 512.0,432.4 530.0,430.3 C548.0,432.2 572.0,430.3 590.0,427.7" stroke="#2e2e2e" stroke-width="3.7"/><path d="M365.0,447.0 C383.0,444.3 402.0,443.7 420.0,447.0 C438.0,444.2 457.0,440.1 475.0,439.2 C493.0,436.0 512.0,432.4 530.0,430.3 C548.0,432.2 572.0,430.3 590.0,427.7" stroke="#a5a5a5" stroke-width="2.8"/><path d="M365.0,429.0 C383.0,426.6 402.0,438.7 420.0,439.7 C438.0,439.4 457.0,435.2 475.0,433.7 C493.0,435.7 512.0,436.4 530.0,439.7 C548.0,439.0 572.0,446.1 590.0,445.8" stroke="#2e2e2e" stroke-width="2.7"/><path d="M365.0,429.0 C383.0,426.6 402.0,438.7 420.0,439.7 C438.0,439.4 457.0,435.2 475.0,433.7 C493.0,435.7 512.0,436.4 530.0,439.7 C548.0,439.0 572.0,446.1 590.0,445.8" stroke="#bdbdbd" stroke-width="1.8"/><path d="M365.0,426.9 C383.0,426.9 402.0,434.7 420.0,431.2 C438.0,432.9 457.0,438.7 475.0,442.6 C493.0,445.1 512.0,451.0 530.0,447.0 C548.0,449.0 572.0,444.6 590.0,447.0" stroke="#2e2e2e" stroke-width="3.2"/><path d="M365.0,426.9 C383.0,426.9 402.0,434.7 420.0,431.2 C438.0,432.9 457.0,438.7 475.0,442.6 C493.0,445.1 512.0,451.0 530.0,447.0 C548.0,449.0 572.0,444.6 590.0,447.0" stroke="#747474" stroke-width="2.3"/><path d="M365.0,379.7 C383.0,382.5 402.0,381.1 420.0,381.0 C438.0,377.4 457.0,377.4 475.0,378.0 C493.0,375.9 512.0,375.4 530.0,374.1 C548.0,370.6 572.0,372.8 590.0,374.6" stroke="#2e2e2e" stroke-width="3.5"/><path d="M365.0,379.7 C383.0,382.5 402.0,381.1 420.0,381.0 C438.0,377.4 457.0,377.4 475.0,378.0 C493.0,375.9 512.0,375.4 530.0,374.1 C548.0,370.6 572.0,372.8 590.0,374.6" stroke="#999" stroke-width="2.6"/><path d="M365.0,405.5 C383.0,402.2 402.0,404.0 420.0,401.5 C438.0,398.6 457.0,391.2 475.0,388.7 C493.0,384.9 512.0,387.9 530.0,387.4 C548.0,391.0 572.0,381.2 590.0,378.2" stroke="#2e2e2e" stroke-width="2.8"/><path d="M365.0,405.5 C383.0,402.2 402.0,404.0 420.0,401.5 C438.0,398.6 457.0,391.2 475.0,388.7 C493.0,384.9 512.0,387.9 530.0,387.4 C548.0,391.0 572.0,381.2 590.0,378.2" stroke="#999" stroke-width="1.9"/><path d="M365.0,355.3 C383.0,356.8 402.0,362.0 420.0,361.9 C438.0,358.4 457.0,361.9 475.0,362.8 C493.0,365.0 512.0,371.2 530.0,371.8 C548.0,372.5 572.0,391.3 590.0,388.0" stroke="#2e2e2e" stroke-width="3.6"/><path d="M365.0,355.3 C383.0,356.8 402.0,362.0 420.0,361.9 C438.0,358.4 457.0,361.9 475.0,362.8 C493.0,365.0 512.0,371.2 530.0,371.8 C548.0,372.5 572.0,391.3 590.0,388.0" stroke="#9c9c9c" stroke-width="2.7"/><path d="M365.0,414.3 C383.0,417.4 402.0,410.8 420.0,414.7 C438.0,417.2 457.0,409.6 475.0,412.2 C493.0,410.9 512.0,407.0 530.0,408.6 C548.0,406.1 572.0,401.7 590.0,399.0" stroke="#2e2e2e" stroke-width="4.1"/><path d="M365.0,414.3 C383.0,417.4 402.0,410.8 420.0,414.7 C438.0,417.2 457.0,409.6 475.0,412.2 C493.0,410.9 512.0,407.0 530.0,408.6 C548.0,406.1 572.0,401.7 590.0,399.0" stroke="#999" stroke-width="3.2"/><path d="M365.0,367.2 C383.0,364.6 402.0,368.6 420.0,369.0 C438.0,365.6 457.0,364.4 475.0,365.4 C493.0,368.6 512.0,372.7 530.0,369.7 C548.0,367.2 572.0,357.1 590.0,360.9" stroke="#2e2e2e" stroke-width="4.0"/><path d="M365.0,367.2 C383.0,364.6 402.0,368.6 420.0,369.0 C438.0,365.6 457.0,364.4 475.0,365.4 C493.0,368.6 512.0,372.7 530.0,369.7 C548.0,367.2 572.0,357.1 590.0,360.9" stroke="#909090" stroke-width="3.1"/><path d="M365.0,414.9 C383.0,414.3 402.0,417.8 420.0,419.7 C438.0,421.7 457.0,414.1 475.0,415.1 C493.0,417.3 512.0,394.8 530.0,397.6 C548.0,397.8 572.0,398.3 590.0,394.5" stroke="#2e2e2e" stroke-width="2.8"/><path d="M365.0,414.9 C383.0,414.3 402.0,417.8 420.0,419.7 C438.0,421.7 457.0,414.1 475.0,415.1 C493.0,417.3 512.0,394.8 530.0,397.6 C548.0,397.8 572.0,398.3 590.0,394.5" stroke="#858585" stroke-width="1.9"/><path d="M365.0,349.4 C383.0,347.3 402.0,351.8 420.0,351.2 C438.0,349.3 457.0,355.0 475.0,354.6 C493.0,356.5 512.0,355.1 530.0,358.0 C548.0,357.8 572.0,367.1 590.0,365.4" stroke="#2e2e2e" stroke-width="2.7"/><path d="M365.0,349.4 C383.0,347.3 402.0,351.8 420.0,351.2 C438.0,349.3 457.0,355.0 475.0,354.6 C493.0,356.5 512.0,355.1 530.0,358.0 C548.0,357.8 572.0,367.1 590.0,365.4" stroke="#8a8a8a" stroke-width="1.8"/><path d="M365.0,377.8 C383.0,379.4 402.0,370.6 420.0,367.6 C438.0,369.8 457.0,365.5 475.0,365.0 C493.0,364.5 512.0,365.3 530.0,368.5 C548.0,365.4 572.0,359.9 590.0,356.7" stroke="#2e2e2e" stroke-width="3.4"/><path d="M365.0,377.8 C383.0,379.4 402.0,370.6 420.0,367.6 C438.0,369.8 457.0,365.5 475.0,365.0 C493.0,364.5 512.0,365.3 530.0,368.5 C548.0,365.4 572.0,359.9 590.0,356.7" stroke="#a0a0a0" stroke-width="2.5"/><path d="M365.0,414.7 C383.0,411.3 402.0,420.6 420.0,421.0 C438.0,422.9 457.0,417.4 475.0,417.2 C493.0,416.3 512.0,424.4 530.0,421.0 C548.0,419.4 572.0,438.5 590.0,438.1" stroke="#2e2e2e" stroke-width="2.9"/><path d="M365.0,414.7 C383.0,411.3 402.0,420.6 420.0,421.0 C438.0,422.9 457.0,417.4 475.0,417.2 C493.0,416.3 512.0,424.4 530.0,421.0 C548.0,419.4 572.0,438.5 590.0,438.1" stroke="#bdbdbd" stroke-width="2.0"/><path d="M365.0,384.7 C383.0,383.4 402.0,376.7 420.0,379.6 C438.0,383.3 457.0,381.1 475.0,383.0 C493.0,381.2 512.0,379.6 530.0,377.4 C548.0,379.3 572.0,375.8 590.0,377.7" stroke="#2e2e2e" stroke-width="3.6"/><path d="M365.0,384.7 C383.0,383.4 402.0,376.7 420.0,379.6 C438.0,383.3 457.0,381.1 475.0,383.0 C493.0,381.2 512.0,379.6 530.0,377.4 C548.0,379.3 572.0,375.8 590.0,377.7" stroke="#8a8a8a" stroke-width="2.7"/><path d="M365.0,380.7 C383.0,378.1 402.0,379.7 420.0,382.6 C438.0,379.0 457.0,394.8 475.0,392.9 C493.0,393.4 512.0,384.6 530.0,388.5 C548.0,384.8 572.0,399.4 590.0,396.8" stroke="#2e2e2e" stroke-width="3.6"/><path d="M365.0,380.7 C383.0,378.1 402.0,379.7 420.0,382.6 C438.0,379.0 457.0,394.8 475.0,392.9 C493.0,393.4 512.0,384.6 530.0,388.5 C548.0,384.8 572.0,399.4 590.0,396.8" stroke="#909090" stroke-width="2.7"/><path d="M365.0,425.2 C383.0,425.5 402.0,420.5 420.0,418.9 C438.0,420.6 457.0,416.1 475.0,414.3 C493.0,415.1 512.0,403.2 530.0,406.8 C548.0,408.6 572.0,400.3 590.0,401.9" stroke="#2e2e2e" stroke-width="3.9"/><path d="M365.0,425.2 C383.0,425.5 402.0,420.5 420.0,418.9 C438.0,420.6 457.0,416.1 475.0,414.3 C493.0,415.1 512.0,403.2 530.0,406.8 C548.0,408.6 572.0,400.3 590.0,401.9" stroke="#858585" stroke-width="3.0"/><path d="M365.0,434.0 C383.0,432.4 402.0,427.2 420.0,431.2 C438.0,433.2 457.0,415.5 475.0,415.3 C493.0,418.6 512.0,418.3 530.0,418.5 C548.0,415.8 572.0,403.1 590.0,405.4" stroke="#2e2e2e" stroke-width="3.1"/><path d="M365.0,434.0 C383.0,432.4 402.0,427.2 420.0,431.2 C438.0,433.2 457.0,415.5 475.0,415.3 C493.0,418.6 512.0,418.3 530.0,418.5 C548.0,415.8 572.0,403.1 590.0,405.4" stroke="#b0b0b0" stroke-width="2.2"/><path d="M365.0,406.5 C383.0,405.6 402.0,415.3 420.0,417.7 C438.0,421.0 457.0,409.6 475.0,412.2 C493.0,412.2 512.0,412.3 530.0,408.8 C548.0,407.6 572.0,405.5 590.0,409.3" stroke="#2e2e2e" stroke-width="3.1"/><path d="M365.0,406.5 C383.0,405.6 402.0,415.3 420.0,417.7 C438.0,421.0 457.0,409.6 475.0,412.2 C493.0,412.2 512.0,412.3 530.0,408.8 C548.0,407.6 572.0,405.5 590.0,409.3" stroke="#bdbdbd" stroke-width="2.2"/><path d="M365.0,403.2 C383.0,405.9 402.0,397.2 420.0,398.8 C438.0,395.7 457.0,398.9 475.0,400.8 C493.0,399.7 512.0,401.0 530.0,397.9 C548.0,396.0 572.0,404.6 590.0,403.5" stroke="#2e2e2e" stroke-width="2.8"/><path d="M365.0,403.2 C383.0,405.9 402.0,397.2 420.0,398.8 C438.0,395.7 457.0,398.9 475.0,400.8 C493.0,399.7 512.0,401.0 530.0,397.9 C548.0,396.0 572.0,404.6 590.0,403.5" stroke="#9c9c9c" stroke-width="1.9"/><path d="M365.0,418.8 C383.0,416.2 402.0,423.3 420.0,421.1 C438.0,421.4 457.0,431.8 475.0,434.4 C493.0,433.1 512.0,430.9 530.0,428.7 C548.0,425.5 572.0,440.9 590.0,438.1" stroke="#2e2e2e" stroke-width="3.1"/><path d="M365.0,418.8 C383.0,416.2 402.0,423.3 420.0,421.1 C438.0,421.4 457.0,431.8 475.0,434.4 C493.0,433.1 512.0,430.9 530.0,428.7 C548.0,425.5 572.0,440.9 590.0,438.1" stroke="#999" stroke-width="2.2"/><path d="M365.0,388.4 C383.0,385.2 402.0,379.9 420.0,378.0 C438.0,381.7 457.0,370.3 475.0,371.1 C493.0,370.8 512.0,365.6 530.0,369.0 C548.0,368.4 572.0,369.7 590.0,366.2" stroke="#2e2e2e" stroke-width="3.1"/><path d="M365.0,388.4 C383.0,385.2 402.0,379.9 420.0,378.0 C438.0,381.7 457.0,370.3 475.0,371.1 C493.0,370.8 512.0,365.6 530.0,369.0 C548.0,368.4 572.0,369.7 590.0,366.2" stroke="#858585" stroke-width="2.2"/><path d="M365.0,360.3 C383.0,357.2 402.0,360.9 420.0,360.6 C438.0,357.3 457.0,357.9 475.0,354.0 C493.0,354.4 512.0,348.6 530.0,349.1 C548.0,347.3 572.0,359.0 590.0,358.6" stroke="#2e2e2e" stroke-width="2.8"/><path d="M365.0,360.3 C383.0,357.2 402.0,360.9 420.0,360.6 C438.0,357.3 457.0,357.9 475.0,354.0 C493.0,354.4 512.0,348.6 530.0,349.1 C548.0,347.3 572.0,359.0 590.0,358.6" stroke="#bdbdbd" stroke-width="1.9"/><path d="M365.0,417.6 C383.0,419.3 402.0,427.9 420.0,431.3 C438.0,429.8 457.0,433.9 475.0,431.0 C493.0,432.1 512.0,436.0 530.0,437.5 C548.0,437.9 572.0,449.4 590.0,447.0" stroke="#2e2e2e" stroke-width="3.4"/><path d="M365.0,417.6 C383.0,419.3 402.0,427.9 420.0,431.3 C438.0,429.8 457.0,433.9 475.0,431.0 C493.0,432.1 512.0,436.0 530.0,437.5 C548.0,437.9 572.0,449.4 590.0,447.0" stroke="#9c9c9c" stroke-width="2.5"/><path d="M365.0,366.3 C383.0,364.0 402.0,374.1 420.0,372.6 C438.0,374.4 457.0,376.6 475.0,379.8 C493.0,383.8 512.0,378.0 530.0,380.9 C548.0,378.2 572.0,374.5 590.0,377.8" stroke="#2e2e2e" stroke-width="3.1"/><path d="M365.0,366.3 C383.0,364.0 402.0,374.1 420.0,372.6 C438.0,374.4 457.0,376.6 475.0,379.8 C493.0,383.8 512.0,378.0 530.0,380.9 C548.0,378.2 572.0,374.5 590.0,377.8" stroke="#909090" stroke-width="2.2"/><path d="M365.0,395.1 C383.0,396.6 402.0,393.3 420.0,392.9 C438.0,393.4 457.0,390.3 475.0,392.7 C493.0,388.9 512.0,403.9 530.0,403.2 C548.0,403.1 572.0,404.9 590.0,402.2" stroke="#2e2e2e" stroke-width="4.0"/><path d="M365.0,395.1 C383.0,396.6 402.0,393.3 420.0,392.9 C438.0,393.4 457.0,390.3 475.0,392.7 C493.0,388.9 512.0,403.9 530.0,403.2 C548.0,403.1 572.0,404.9 590.0,402.2" stroke="#858585" stroke-width="3.1"/><path d="M365.0,385.6 C383.0,382.7 402.0,374.3 420.0,373.0 C438.0,375.1 457.0,376.7 475.0,374.8 C493.0,370.9 512.0,376.1 530.0,372.6 C548.0,371.1 572.0,380.9 590.0,378.0" stroke="#2e2e2e" stroke-width="3.1"/><path d="M365.0,385.6 C383.0,382.7 402.0,374.3 420.0,373.0 C438.0,375.1 457.0,376.7 475.0,374.8 C493.0,370.9 512.0,376.1 530.0,372.6 C548.0,371.1 572.0,380.9 590.0,378.0" stroke="#9c9c9c" stroke-width="2.2"/><path d="M365.0,427.1 C383.0,429.4 402.0,430.7 420.0,434.6 C438.0,435.2 457.0,431.6 475.0,430.4 C493.0,430.7 512.0,428.7 530.0,428.8 C548.0,428.5 572.0,434.2 590.0,435.2" stroke="#2e2e2e" stroke-width="3.4"/><path d="M365.0,427.1 C383.0,429.4 402.0,430.7 420.0,434.6 C438.0,435.2 457.0,431.6 475.0,430.4 C493.0,430.7 512.0,428.7 530.0,428.8 C548.0,428.5 572.0,434.2 590.0,435.2" stroke="#7a7a7a" stroke-width="2.5"/><path d="M365.0,402.9 C383.0,404.1 402.0,407.7 420.0,408.7 C438.0,409.8 457.0,399.8 475.0,401.9 C493.0,400.1 512.0,384.4 530.0,388.3 C548.0,389.6 572.0,391.8 590.0,391.1" stroke="#2e2e2e" stroke-width="3.2"/><path d="M365.0,402.9 C383.0,404.1 402.0,407.7 420.0,408.7 C438.0,409.8 457.0,399.8 475.0,401.9 C493.0,400.1 512.0,384.4 530.0,388.3 C548.0,389.6 572.0,391.8 590.0,391.1" stroke="#858585" stroke-width="2.3"/><path d="M365.0,409.0 C383.0,410.8 402.0,415.0 420.0,411.8 C438.0,412.1 457.0,404.1 475.0,408.1 C493.0,407.5 512.0,407.7 530.0,408.0 C548.0,405.5 572.0,401.2 590.0,403.7" stroke="#2e2e2e" stroke-width="3.3"/><path d="M365.0,409.0 C383.0,410.8 402.0,415.0 420.0,411.8 C438.0,412.1 457.0,404.1 475.0,408.1 C493.0,407.5 512.0,407.7 530.0,408.0 C548.0,405.5 572.0,401.2 590.0,403.7" stroke="#a5a5a5" stroke-width="2.4"/><path d="M365.0,384.5 C383.0,385.5 402.0,391.9 420.0,389.2 C438.0,390.1 457.0,387.9 475.0,386.2 C493.0,389.0 512.0,401.9 530.0,401.0 C548.0,397.2 572.0,408.1 590.0,405.0" stroke="#2e2e2e" stroke-width="3.0"/><path d="M365.0,384.5 C383.0,385.5 402.0,391.9 420.0,389.2 C438.0,390.1 457.0,387.9 475.0,386.2 C493.0,389.0 512.0,401.9 530.0,401.0 C548.0,397.2 572.0,408.1 590.0,405.0" stroke="#858585" stroke-width="2.1"/><path d="M365.0,347.1 C383.0,346.6 402.0,347.2 420.0,348.8 C438.0,350.6 457.0,341.9 475.0,342.8 C493.0,340.1 512.0,346.1 530.0,342.5 C548.0,345.6 572.0,338.7 590.0,337.1" stroke="#2e2e2e" stroke-width="2.9"/><path d="M365.0,347.1 C383.0,346.6 402.0,347.2 420.0,348.8 C438.0,350.6 457.0,341.9 475.0,342.8 C493.0,340.1 512.0,346.1 530.0,342.5 C548.0,345.6 572.0,338.7 590.0,337.1" stroke="#7a7a7a" stroke-width="2.0"/><path d="M365.0,447.0 C383.0,449.7 402.0,436.7 420.0,438.6 C438.0,435.3 457.0,435.3 475.0,437.5 C493.0,436.8 512.0,430.8 530.0,428.3 C548.0,430.9 572.0,433.2 590.0,430.0" stroke="#2e2e2e" stroke-width="3.9"/><path d="M365.0,447.0 C383.0,449.7 402.0,436.7 420.0,438.6 C438.0,435.3 457.0,435.3 475.0,437.5 C493.0,436.8 512.0,430.8 530.0,428.3 C548.0,430.9 572.0,433.2 590.0,430.0" stroke="#858585" stroke-width="3.0"/><path d="M365.0,417.1 C383.0,414.7 402.0,418.6 420.0,418.3 C438.0,421.0 457.0,415.4 475.0,416.5 C493.0,413.2 512.0,422.6 530.0,421.8 C548.0,420.7 572.0,419.3 590.0,422.2" stroke="#2e2e2e" stroke-width="3.0"/><path d="M365.0,417.1 C383.0,414.7 402.0,418.6 420.0,418.3 C438.0,421.0 457.0,415.4 475.0,416.5 C493.0,413.2 512.0,422.6 530.0,421.8 C548.0,420.7 572.0,419.3 590.0,422.2" stroke="#b0b0b0" stroke-width="2.1"/><path d="M365.0,404.5 C383.0,407.6 402.0,406.1 420.0,404.3 C438.0,407.4 457.0,406.3 475.0,406.4 C493.0,405.4 512.0,409.8 530.0,405.9 C548.0,407.6 572.0,412.8 590.0,413.9" stroke="#2e2e2e" stroke-width="3.1"/><path d="M365.0,404.5 C383.0,407.6 402.0,406.1 420.0,404.3 C438.0,407.4 457.0,406.3 475.0,406.4 C493.0,405.4 512.0,409.8 530.0,405.9 C548.0,407.6 572.0,412.8 590.0,413.9" stroke="#909090" stroke-width="2.2"/><path d="M365.0,393.7 C383.0,397.6 402.0,403.9 420.0,407.8 C438.0,407.6 457.0,402.0 475.0,405.1 C493.0,405.2 512.0,412.1 530.0,409.9 C548.0,409.8 572.0,414.5 590.0,417.8" stroke="#2e2e2e" stroke-width="3.5"/><path d="M365.0,393.7 C383.0,397.6 402.0,403.9 420.0,407.8 C438.0,407.6 457.0,402.0 475.0,405.1 C493.0,405.2 512.0,412.1 530.0,409.9 C548.0,409.8 572.0,414.5 590.0,417.8" stroke="#9c9c9c" stroke-width="2.6"/><path d="M365.0,345.3 C383.0,346.7 402.0,344.1 420.0,347.1 C438.0,347.2 457.0,354.3 475.0,357.6 C493.0,358.8 512.0,362.9 530.0,359.6 C548.0,360.7 572.0,352.6 590.0,356.3" stroke="#2e2e2e" stroke-width="3.9"/><path d="M365.0,345.3 C383.0,346.7 402.0,344.1 420.0,347.1 C438.0,347.2 457.0,354.3 475.0,357.6 C493.0,358.8 512.0,362.9 530.0,359.6 C548.0,360.7 572.0,352.6 590.0,356.3" stroke="#858585" stroke-width="3.0"/><path d="M365.0,372.5 C383.0,375.5 402.0,375.2 420.0,372.6 C438.0,373.3 457.0,365.9 475.0,369.4 C493.0,368.4 512.0,371.6 530.0,372.3 C548.0,369.6 572.0,364.2 590.0,363.2" stroke="#2e2e2e" stroke-width="2.8"/><path d="M365.0,372.5 C383.0,375.5 402.0,375.2 420.0,372.6 C438.0,373.3 457.0,365.9 475.0,369.4 C493.0,368.4 512.0,371.6 530.0,372.3 C548.0,369.6 572.0,364.2 590.0,363.2" stroke="#bdbdbd" stroke-width="1.9"/><path d="M365.0,392.9 C383.0,394.4 402.0,385.6 420.0,386.0 C438.0,389.0 457.0,373.5 475.0,377.1 C493.0,374.9 512.0,382.2 530.0,383.9 C548.0,382.0 572.0,374.8 590.0,372.2" stroke="#2e2e2e" stroke-width="3.4"/><path d="M365.0,392.9 C383.0,394.4 402.0,385.6 420.0,386.0 C438.0,389.0 457.0,373.5 475.0,377.1 C493.0,374.9 512.0,382.2 530.0,383.9 C548.0,382.0 572.0,374.8 590.0,372.2" stroke="#858585" stroke-width="2.5"/><path d="M365.0,411.4 C383.0,414.9 402.0,408.2 420.0,411.2 C438.0,407.8 457.0,397.9 475.0,399.3 C493.0,395.6 512.0,393.2 530.0,390.9 C548.0,390.3 572.0,396.0 590.0,392.5" stroke="#2e2e2e" stroke-width="2.9"/><path d="M365.0,411.4 C383.0,414.9 402.0,408.2 420.0,411.2 C438.0,407.8 457.0,397.9 475.0,399.3 C493.0,395.6 512.0,393.2 530.0,390.9 C548.0,390.3 572.0,396.0 590.0,392.5" stroke="#999" stroke-width="2.0"/><path d="M365.0,381.1 C383.0,377.7 402.0,386.1 420.0,385.1 C438.0,383.4 457.0,398.5 475.0,397.2 C493.0,393.5 512.0,402.1 530.0,402.4 C548.0,399.7 572.0,392.7 590.0,394.1" stroke="#2e2e2e" stroke-width="3.5"/><path d="M365.0,381.1 C383.0,377.7 402.0,386.1 420.0,385.1 C438.0,383.4 457.0,398.5 475.0,397.2 C493.0,393.5 512.0,402.1 530.0,402.4 C548.0,399.7 572.0,392.7 590.0,394.1" stroke="#858585" stroke-width="2.6"/><path d="M405,337 C430,330 460,332 480,340" stroke="#d0d0d0" stroke-width="2.6"/><path d="M408,335 C415,340 425,345 430,350" stroke="#222" stroke-width="2.0"/><path d="M497,345 C510,336 535,333 560,336" stroke="#2a2a2a" stroke-width="2.4"/><path d="M490,345 L430,375" stroke="#1e1e1e" stroke-width="1.4"/><path d="M555,378 L490,440" stroke="#1e1e1e" stroke-width="1.4"/><path d="M385,388 C405,380 430,380 448,396" stroke="#e6e6e6" stroke-width="2.4"/><path d="M385,376 C450,372 500,380 570,384" stroke="#e8e8e8" stroke-width="1.4"/><path d="M500,382 C520,372 545,368 570,370" stroke="#e0e0e0" stroke-width="1.8"/><path d="M480,420 C510,416 540,412 565,414" stroke="#f0f0f0" stroke-width="1.6"/><path d="M420,437 C470,437 520,437 565,432" stroke="#dcdcdc" stroke-width="1.3"/><path d="M380,442 C420,450 500,452 560,440" stroke="#1a1a1a" stroke-width="1.6"/><path d="M380,442 C420,450 500,452 560,440" stroke="#1a1a1a" stroke-width="1.2"/></g>
 <rect x="380" y="448" width="190" height="10" fill="#e0e0e0"/>
 <path d="M380,448 L570,448" stroke="#151515" stroke-width="2"/>
 <path d="M380,457 L420,456.5 L440,457.5 L470,456.8 L500,457.4 L570,457" stroke="#857a70" stroke-width="1.8" fill="none"/>
 <rect x="380" y="458" width="190" height="40" fill="#5fbfe6"/>
</g>
<circle cx="475" cy="393" r="90" fill="none" stroke="#1a1a1a" stroke-width="1.6"/>
<!-- leader lines -->
<path d="M94.5,291 L94.5,356" stroke="#2a2a2a" stroke-width="1"/>
<path d="M482,197 L457,268" stroke="#222" stroke-width="1.2"/>
<path d="M441.5,461 L374,497" stroke="#222" stroke-width="1.2"/>
<text x="45.3" y="39.7" class="t" textLength="508.7" lengthAdjust="spacingAndGlyphs" text-anchor="start">COSA RENDE QUESTO TAPPETINO SUPER</text><text x="36.5" y="65.7" class="t" textLength="526.4" lengthAdjust="spacingAndGlyphs" text-anchor="start">SOTTILE COSÌ RESISTENTE E ASSORBENTE?</text><text x="579" y="116.8" class="h" textLength="171" lengthAdjust="spacingAndGlyphs" text-anchor="end">LA SUPERFICIE ASSORBENTE</text><text x="579" y="136.4" class="b" textLength="205.6" lengthAdjust="spacingAndGlyphs" text-anchor="end">trattiene i liquidi e li disperde dal centro.</text><text x="579" y="156.3" class="b" textLength="213.3" lengthAdjust="spacingAndGlyphs" text-anchor="end">L’umidità si disperde in modo uniforme in</text><text x="579" y="175.5" class="b" textLength="161" lengthAdjust="spacingAndGlyphs" text-anchor="end">modo che il tappeto si asciughi</text><text x="579" y="193.5" class="b" textLength="66.5" lengthAdjust="spacingAndGlyphs" text-anchor="end">rapidamente.</text><text x="17" y="376.9" class="h" textLength="65.5" lengthAdjust="spacingAndGlyphs" text-anchor="start">LO STRATO</text><text x="17" y="395.6" class="h" textLength="149.5" lengthAdjust="spacingAndGlyphs" text-anchor="start">ADESIVO IMPERMEABILE</text><text x="17" y="415.4" class="b" textLength="137.5" lengthAdjust="spacingAndGlyphs" text-anchor="start">resta appiccicato ma viene</text><text x="17" y="434.2" class="b" textLength="172.8" lengthAdjust="spacingAndGlyphs" text-anchor="start">rimosso facilmente. Esso previene</text><text x="17" y="452.9" class="b" textLength="178" lengthAdjust="spacingAndGlyphs" text-anchor="start">gli spostamenti o gli arrotolamenti</text><text x="17" y="471.9" class="b" textLength="179.7" lengthAdjust="spacingAndGlyphs" text-anchor="start">del tappetino e impedisce ai liquidi</text><text x="17" y="490.6" class="b" textLength="65.7" lengthAdjust="spacingAndGlyphs" text-anchor="start">di penetrare.</text><text x="261" y="484.2" class="h" textLength="59.5" lengthAdjust="spacingAndGlyphs" text-anchor="start">LE FIBRE</text><text x="261" y="503.8" class="h" textLength="93" lengthAdjust="spacingAndGlyphs" text-anchor="start">INTRECCIATE</text><text x="260.6" y="524" class="b" textLength="206.3" lengthAdjust="spacingAndGlyphs" text-anchor="start">rendono il tappetino quasi indistruttibile,</text><text x="260.6" y="543" class="b" textLength="225" lengthAdjust="spacingAndGlyphs" text-anchor="start">inoltre intrappolano lo sporco e le particelle</text><text x="260.6" y="561.3" class="b" textLength="202.6" lengthAdjust="spacingAndGlyphs" text-anchor="start">fini evitando l’accumulo di sporcizia nel</text><text x="260.6" y="580.4" class="b" textLength="80.2" lengthAdjust="spacingAndGlyphs" text-anchor="start">luogo di lavoro.</text>
</svg></body></html>
